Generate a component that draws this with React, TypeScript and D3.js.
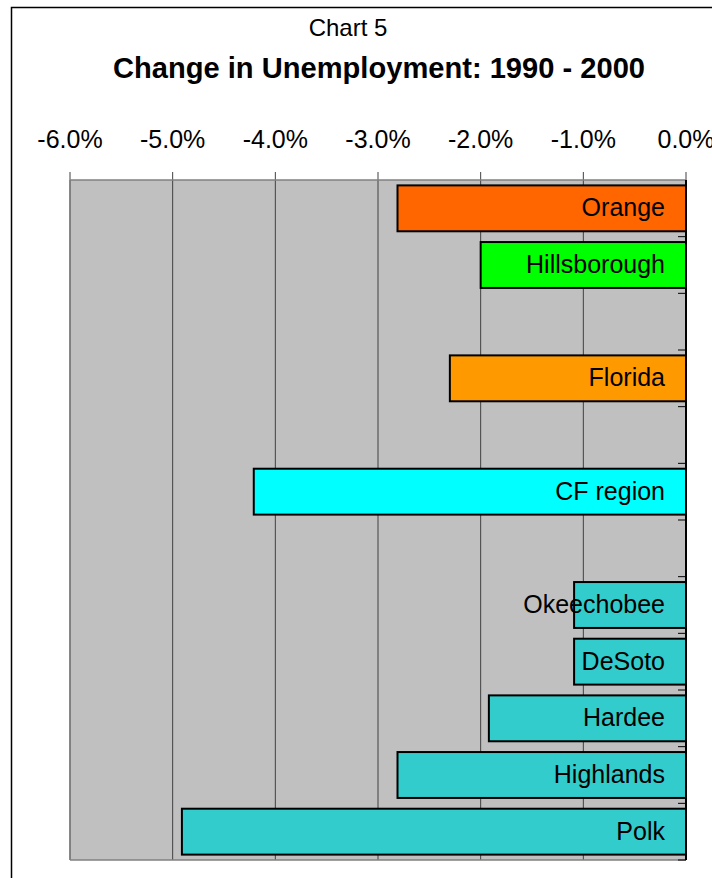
import React from "react";
import * as d3 from "d3";

const categories = ["Orange", "Hillsborough", "", "Florida", " ", "CF region", "  ", "Okeechobee", "DeSoto", "Hardee", "Highlands", "Polk"];
const values = [-2.81, -2.0, null, -2.3, null, -4.21, null, -1.09, -1.09, -1.92, -2.81, -4.91];
const colors = ["#FF6600", "#00FF00", "", "#FF9900", "", "#00FFFF", "", "#33CCCC", "#33CCCC", "#33CCCC", "#33CCCC", "#33CCCC"];
const tickValues = [-6, -5, -4, -3, -2, -1, 0];

const W = 712, H = 878;
const x0 = 70, x1 = 686, y0 = 180, y1 = 860;
const FONT = "'Liberation Sans', Arial, sans-serif";

export default function App() {
  const x = d3.scaleLinear().domain([-6, 0]).range([x0, x1]);
  const y = d3.scaleBand<string>().domain(categories).range([y0, y1]).paddingInner(0.19).paddingOuter(0.095);
  const step = (y1 - y0) / categories.length;
  const fmt = (v: number) => v.toFixed(1) + "%";
  return (
    <svg width={W} height={H} style={{ position: "absolute", left: 0, top: 0, background: "#fff" }}>
      <rect x={11.5} y={7.5} width={760} height={900} fill="#fff" stroke="#000" strokeWidth={1.5} />
      <text x={348} y={36} textAnchor="middle" fontFamily={FONT} fontSize={24}>Chart 5</text>
      <text x={379} y={78} textAnchor="middle" fontFamily={FONT} fontSize={29} fontWeight="bold" textLength={532} lengthAdjust="spacingAndGlyphs">Change in Unemployment: 1990 - 2000</text>
      <rect x={x0} y={y0} width={x1 - x0} height={y1 - y0} fill="#C0C0C0" />
      {tickValues.map((t) => (
        <g key={t}>
          <line x1={x(t)} x2={x(t)} y1={172} y2={y1} stroke="#404040" strokeWidth={1} />
          <text x={x(t)} y={148} textAnchor="middle" fontFamily={FONT} fontSize={25}>{fmt(t)}</text>
        </g>
      ))}
      <line x1={x0} x2={x1} y1={y0} y2={y0} stroke="#808080" strokeWidth={1.5} />
      <line x1={x0} x2={x1} y1={y1} y2={y1} stroke="#808080" strokeWidth={1.5} />
      <line x1={x0} x2={x0} y1={y0} y2={y1} stroke="#808080" strokeWidth={1.5} />
      {categories.map((c, i) => (
        <line key={"ct" + i} x1={x1 - 8} x2={x1} y1={y0 + (i + 1) * step} y2={y0 + (i + 1) * step} stroke="#000" strokeWidth={1} />
      ))}
      {categories.map((c, i) => {
        const v = values[i];
        if (v === null) return null;
        const by = y(c)!;
        return (
          <rect key={"b" + i} x={x(v)} y={by} width={x(0) - x(v)} height={y.bandwidth()} fill={colors[i]} stroke="#000" strokeWidth={2} />
        );
      })}
      <line x1={x1} x2={x1} y1={y0} y2={y1} stroke="#000" strokeWidth={2} />
      {categories.map((c, i) => {
        const v = values[i];
        if (v === null) return null;
        const cy = y(c)! + y.bandwidth() / 2;
        return (
          <text key={"l" + i} x={665} y={cy + 8} textAnchor="end" fontFamily={FONT} fontSize={25}>{c}</text>
        );
      })}
    </svg>
  );
}
